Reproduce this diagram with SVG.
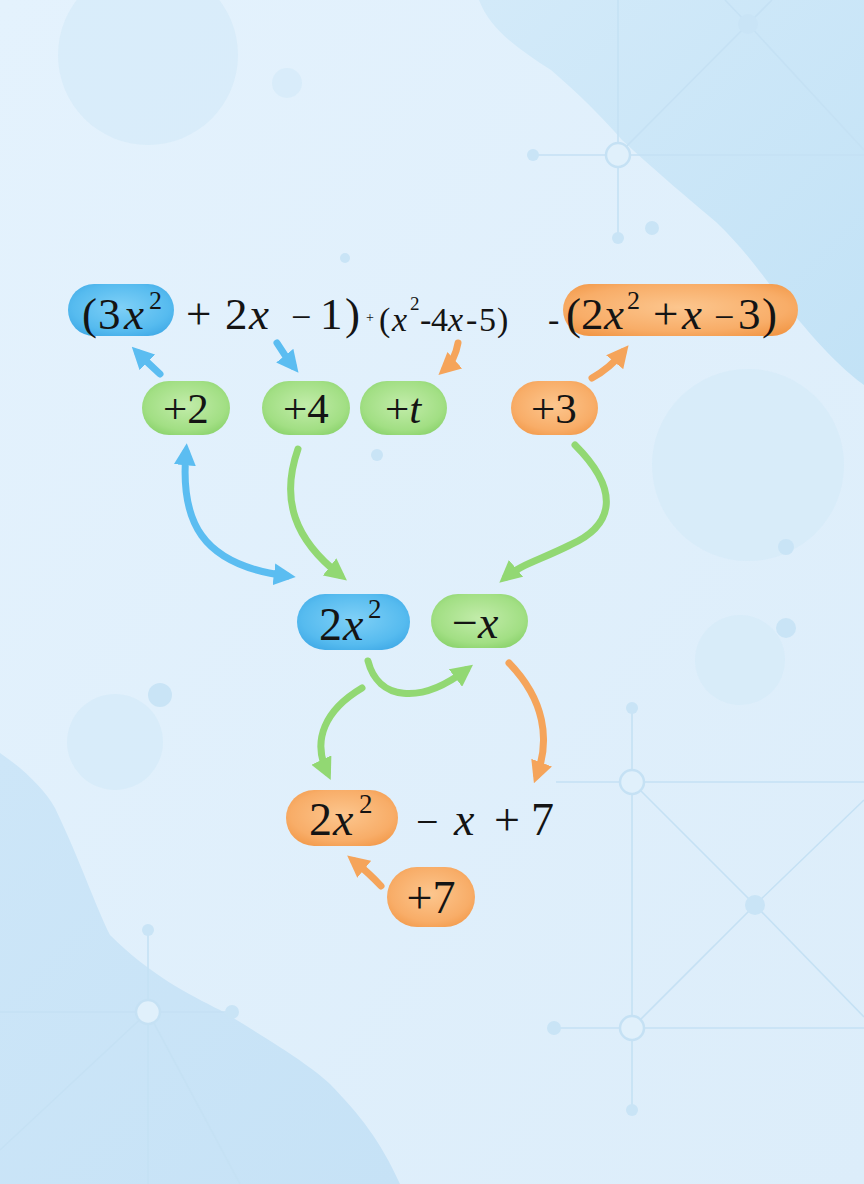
<svg xmlns="http://www.w3.org/2000/svg" width="864" height="1184" viewBox="0 0 864 1184">
<defs>
  <linearGradient id="bg" x1="0" y1="0" x2="1" y2="1">
    <stop offset="0" stop-color="#e4f2fd"/>
    <stop offset="1" stop-color="#dcedfa"/>
  </linearGradient>
  <linearGradient id="blobTR" x1="0" y1="0" x2="1" y2="1">
    <stop offset="0" stop-color="#d3eaf9"/>
    <stop offset="1" stop-color="#c2e2f6"/>
  </linearGradient>
  <linearGradient id="blobBL" x1="0" y1="0" x2="1" y2="1">
    <stop offset="0" stop-color="#cde6f8"/>
    <stop offset="1" stop-color="#c6e2f6"/>
  </linearGradient>
  <radialGradient id="gBlue" cx="50%" cy="45%" r="65%">
    <stop offset="0" stop-color="#7fd0f7"/>
    <stop offset="0.7" stop-color="#56bbef"/>
    <stop offset="1" stop-color="#3ea8e6"/>
  </radialGradient>
  <radialGradient id="gGreen" cx="50%" cy="45%" r="65%">
    <stop offset="0" stop-color="#c2ecaa"/>
    <stop offset="0.7" stop-color="#a2df84"/>
    <stop offset="1" stop-color="#86d067"/>
  </radialGradient>
  <radialGradient id="gOrange" cx="50%" cy="45%" r="65%">
    <stop offset="0" stop-color="#fcc68e"/>
    <stop offset="0.7" stop-color="#f8ad68"/>
    <stop offset="1" stop-color="#f29848"/>
  </radialGradient>
  <marker id="mBlue" viewBox="0 0 10 10" refX="6" refY="5" markerWidth="22" markerHeight="22" markerUnits="userSpaceOnUse" orient="auto-start-reverse">
    <path d="M0,0 L10,5 L0,10 z" fill="#5bbdf1"/>
  </marker>
  <marker id="mGreen" viewBox="0 0 10 10" refX="6" refY="5" markerWidth="22" markerHeight="22" markerUnits="userSpaceOnUse" orient="auto-start-reverse">
    <path d="M0,0 L10,5 L0,10 z" fill="#92d873"/>
  </marker>
  <marker id="mOrange" viewBox="0 0 10 10" refX="6" refY="5" markerWidth="22" markerHeight="22" markerUnits="userSpaceOnUse" orient="auto-start-reverse">
    <path d="M0,0 L10,5 L0,10 z" fill="#f5a45a"/>
  </marker>
  <style>
    .t{font-family:"Liberation Serif","DejaVu Serif",serif;fill:#141414;}
    .i{font-style:italic;}
    .net{stroke:#c5e1f4;stroke-width:1.6;fill:none;}
    .nc{stroke:#c5e1f4;stroke-width:2.5;fill:#e0f0fb;}
    .nd{fill:#c9e4f6;}
    .soft{fill:#d6ebf9;opacity:0.8;}
    .ab{stroke:#5bbdf1;stroke-width:7;fill:none;stroke-linecap:round;}
    .ag{stroke:#92d873;stroke-width:7;fill:none;stroke-linecap:round;}
    .ao{stroke:#f5a45a;stroke-width:7;fill:none;stroke-linecap:round;}
    .pb{fill:url(#gBlue);}
    .pg{fill:url(#gGreen);}
    .po{fill:url(#gOrange);}
  </style>
</defs>

<g id="background">
  <rect x="0" y="0" width="864" height="1184" fill="url(#bg)"/>
  <path d="M479,0 C490,30 520,50 551,70 C580,95 600,115 622,140 C660,175 690,200 716,222 C740,245 755,265 771,286 C800,322 830,360 864,385 L864,0 Z" fill="url(#blobTR)"/>
  <path d="M0,753 C25,770 45,790 55,808 C80,860 95,905 110,935 C150,975 190,995 220,1010 C270,1040 310,1065 330,1084 C360,1115 380,1140 400,1184 L0,1184 Z" fill="url(#blobBL)"/>
  <circle class="soft" cx="148" cy="55" r="90"/>
  <circle class="soft" cx="287" cy="83" r="15"/>
  <circle class="soft" cx="748" cy="465" r="96"/>
  <circle class="soft" cx="740" cy="660" r="45"/>
  <circle class="soft" cx="115" cy="742" r="48"/>
  <circle class="nd" cx="160" cy="695" r="12"/>
  <circle class="nd" cx="786" cy="628" r="10"/>
  <circle class="nd" cx="786" cy="547" r="8"/>
  <circle class="nd" cx="377" cy="455" r="6"/>
  <circle class="nd" cx="345" cy="258" r="5"/>
  <line class="net" x1="618" y1="0" x2="618" y2="238"/>
  <line class="net" x1="533" y1="155" x2="864" y2="155"/>
  <line class="net" x1="618" y1="155" x2="748" y2="24"/>
  <line class="net" x1="748" y1="24" x2="864" y2="150"/>
  <line class="net" x1="748" y1="24" x2="725" y2="0"/>
  <line class="net" x1="748" y1="24" x2="772" y2="0"/>
  <circle class="nc" cx="618" cy="155" r="12"/>
  <circle class="nd" cx="748" cy="24" r="10"/>
  <circle class="nd" cx="533" cy="155" r="6"/>
  <circle class="nd" cx="618" cy="238" r="6"/>
  <circle class="nd" cx="652" cy="228" r="7"/>
  <line class="net" x1="632" y1="708" x2="632" y2="1112"/>
  <line class="net" x1="556" y1="782" x2="864" y2="782"/>
  <line class="net" x1="554" y1="1028" x2="864" y2="1028"/>
  <line class="net" x1="632" y1="782" x2="755" y2="905"/>
  <line class="net" x1="755" y1="905" x2="632" y2="1028"/>
  <line class="net" x1="755" y1="905" x2="864" y2="800"/>
  <line class="net" x1="755" y1="905" x2="864" y2="1017"/>
  <circle class="nc" cx="632" cy="782" r="12"/>
  <circle class="nc" cx="632" cy="1028" r="12"/>
  <circle class="nd" cx="755" cy="905" r="10"/>
  <circle class="nd" cx="632" cy="708" r="6"/>
  <circle class="nd" cx="632" cy="1110" r="6"/>
  <circle class="nd" cx="554" cy="1028" r="7"/>
  <line class="net" x1="148" y1="930" x2="148" y2="1184"/>
  <line class="net" x1="0" y1="1012" x2="232" y2="1012"/>
  <line class="net" x1="148" y1="1012" x2="0" y2="1150"/>
  <line class="net" x1="148" y1="1012" x2="240" y2="1184"/>
  <circle class="nc" cx="148" cy="1012" r="12"/>
  <circle class="nd" cx="232" cy="1012" r="7"/>
  <circle class="nd" cx="148" cy="930" r="6"/>
</g>

<g id="connectors">
  <path class="ab" d="M160,374 Q148,363 138,353" marker-end="url(#mBlue)"/>
  <path class="ab" d="M277,343 Q285,356 293,366" marker-end="url(#mBlue)"/>
  <path class="ao" d="M458,343 Q455,360 445,369" marker-end="url(#mOrange)"/>
  <path class="ao" d="M592,378 Q610,368 623,352" marker-end="url(#mOrange)"/>
  <path class="ab" d="M186,452 C180,520 200,565 287,576" marker-start="url(#mBlue)" marker-end="url(#mBlue)"/>
  <path class="ag" d="M298,449 C280,500 295,540 340,575" marker-end="url(#mGreen)"/>
  <path class="ag" d="M575,445 C620,490 615,525 570,545 C540,560 520,565 506,577" marker-end="url(#mGreen)"/>
  <path class="ag" d="M368,661 C378,700 420,705 466,670" marker-end="url(#mGreen)"/>
  <path class="ag" d="M362,688 C325,710 312,740 327,772" marker-end="url(#mGreen)"/>
  <path class="ao" d="M509,663 C545,700 550,740 537,775" marker-end="url(#mOrange)"/>
  <path class="ao" d="M381,886 Q370,874 354,861" marker-end="url(#mOrange)"/>
</g>

<g id="expr-top">
  <rect class="pb" x="68" y="284" width="106" height="52" rx="26"/>
  <rect class="po" x="563" y="284" width="235" height="52" rx="26"/>
  <text class="t" font-size="45" y="329"><tspan x="82">(</tspan><tspan x="98">3</tspan><tspan x="124" class="i">x</tspan><tspan x="149" y="309" font-size="26">2</tspan></text>
  <text class="t" font-size="45" y="329"><tspan x="186">+</tspan><tspan x="225">2</tspan><tspan x="249" class="i">x</tspan><tspan x="291" font-size="36">−</tspan><tspan x="320">1</tspan><tspan x="345">)</tspan></text>
  <text class="t" font-size="34" y="331"><tspan x="366" y="322" font-size="14">+</tspan><tspan x="379" y="331">(</tspan><tspan x="392" class="i">x</tspan><tspan x="410" y="310" font-size="19">2</tspan><tspan x="420" y="331">-</tspan><tspan x="431">4</tspan><tspan x="448" class="i">x</tspan><tspan x="466">-</tspan><tspan x="479">5</tspan><tspan x="497">)</tspan></text>
  <text class="t" font-size="34" x="548" y="331">-</text>
  <text class="t" font-size="45" y="329"><tspan x="566">(</tspan><tspan x="581">2</tspan><tspan x="604" class="i">x</tspan><tspan x="627" y="309" font-size="26">2</tspan><tspan x="653" y="329">+</tspan><tspan x="682" class="i">x</tspan><tspan x="714" font-size="36">−</tspan><tspan x="738">3</tspan><tspan x="762">)</tspan></text>
</g>

<g id="node-p2">
  <rect class="pg" x="142" y="381" width="88" height="54" rx="27"/>
  <text class="t" font-size="43" x="186" y="423" text-anchor="middle">+2</text>
</g>
<g id="node-p4">
  <rect class="pg" x="262" y="381" width="88" height="54" rx="27"/>
  <text class="t" font-size="43" x="306" y="423" text-anchor="middle">+4</text>
</g>
<g id="node-pt">
  <rect class="pg" x="360" y="381" width="87" height="54" rx="27"/>
  <text class="t" font-size="43" x="403" y="423" text-anchor="middle">+<tspan class="i">t</tspan></text>
</g>
<g id="node-p3">
  <rect class="po" x="511" y="381" width="87" height="54" rx="27"/>
  <text class="t" font-size="43" x="554" y="423" text-anchor="middle">+3</text>
</g>

<g id="node-2x2">
  <rect class="pb" x="297" y="594" width="113" height="56" rx="28"/>
  <text class="t" font-size="46" y="640"><tspan x="319">2</tspan><tspan x="343" class="i">x</tspan><tspan x="368" y="618" font-size="27">2</tspan></text>
</g>
<g id="node-mx">
  <rect class="pg" x="431" y="594" width="97" height="54" rx="27"/>
  <text class="t" font-size="46" y="638"><tspan x="452">−</tspan><tspan x="478" class="i">x</tspan></text>
</g>

<g id="result">
  <rect class="po" x="286" y="790" width="112" height="56" rx="28"/>
  <text class="t" font-size="46" y="835"><tspan x="309">2</tspan><tspan x="333" class="i">x</tspan><tspan x="359" y="813" font-size="27">2</tspan></text>
  <text class="t" font-size="46" y="835"><tspan x="416" font-size="40">−</tspan><tspan x="454" class="i">x</tspan><tspan x="494">+</tspan><tspan x="531">7</tspan></text>
</g>
<g id="node-p7">
  <rect class="po" x="387" y="867" width="88" height="60" rx="30"/>
  <text class="t" font-size="46" x="431" y="913" text-anchor="middle">+7</text>
</g>
</svg>
